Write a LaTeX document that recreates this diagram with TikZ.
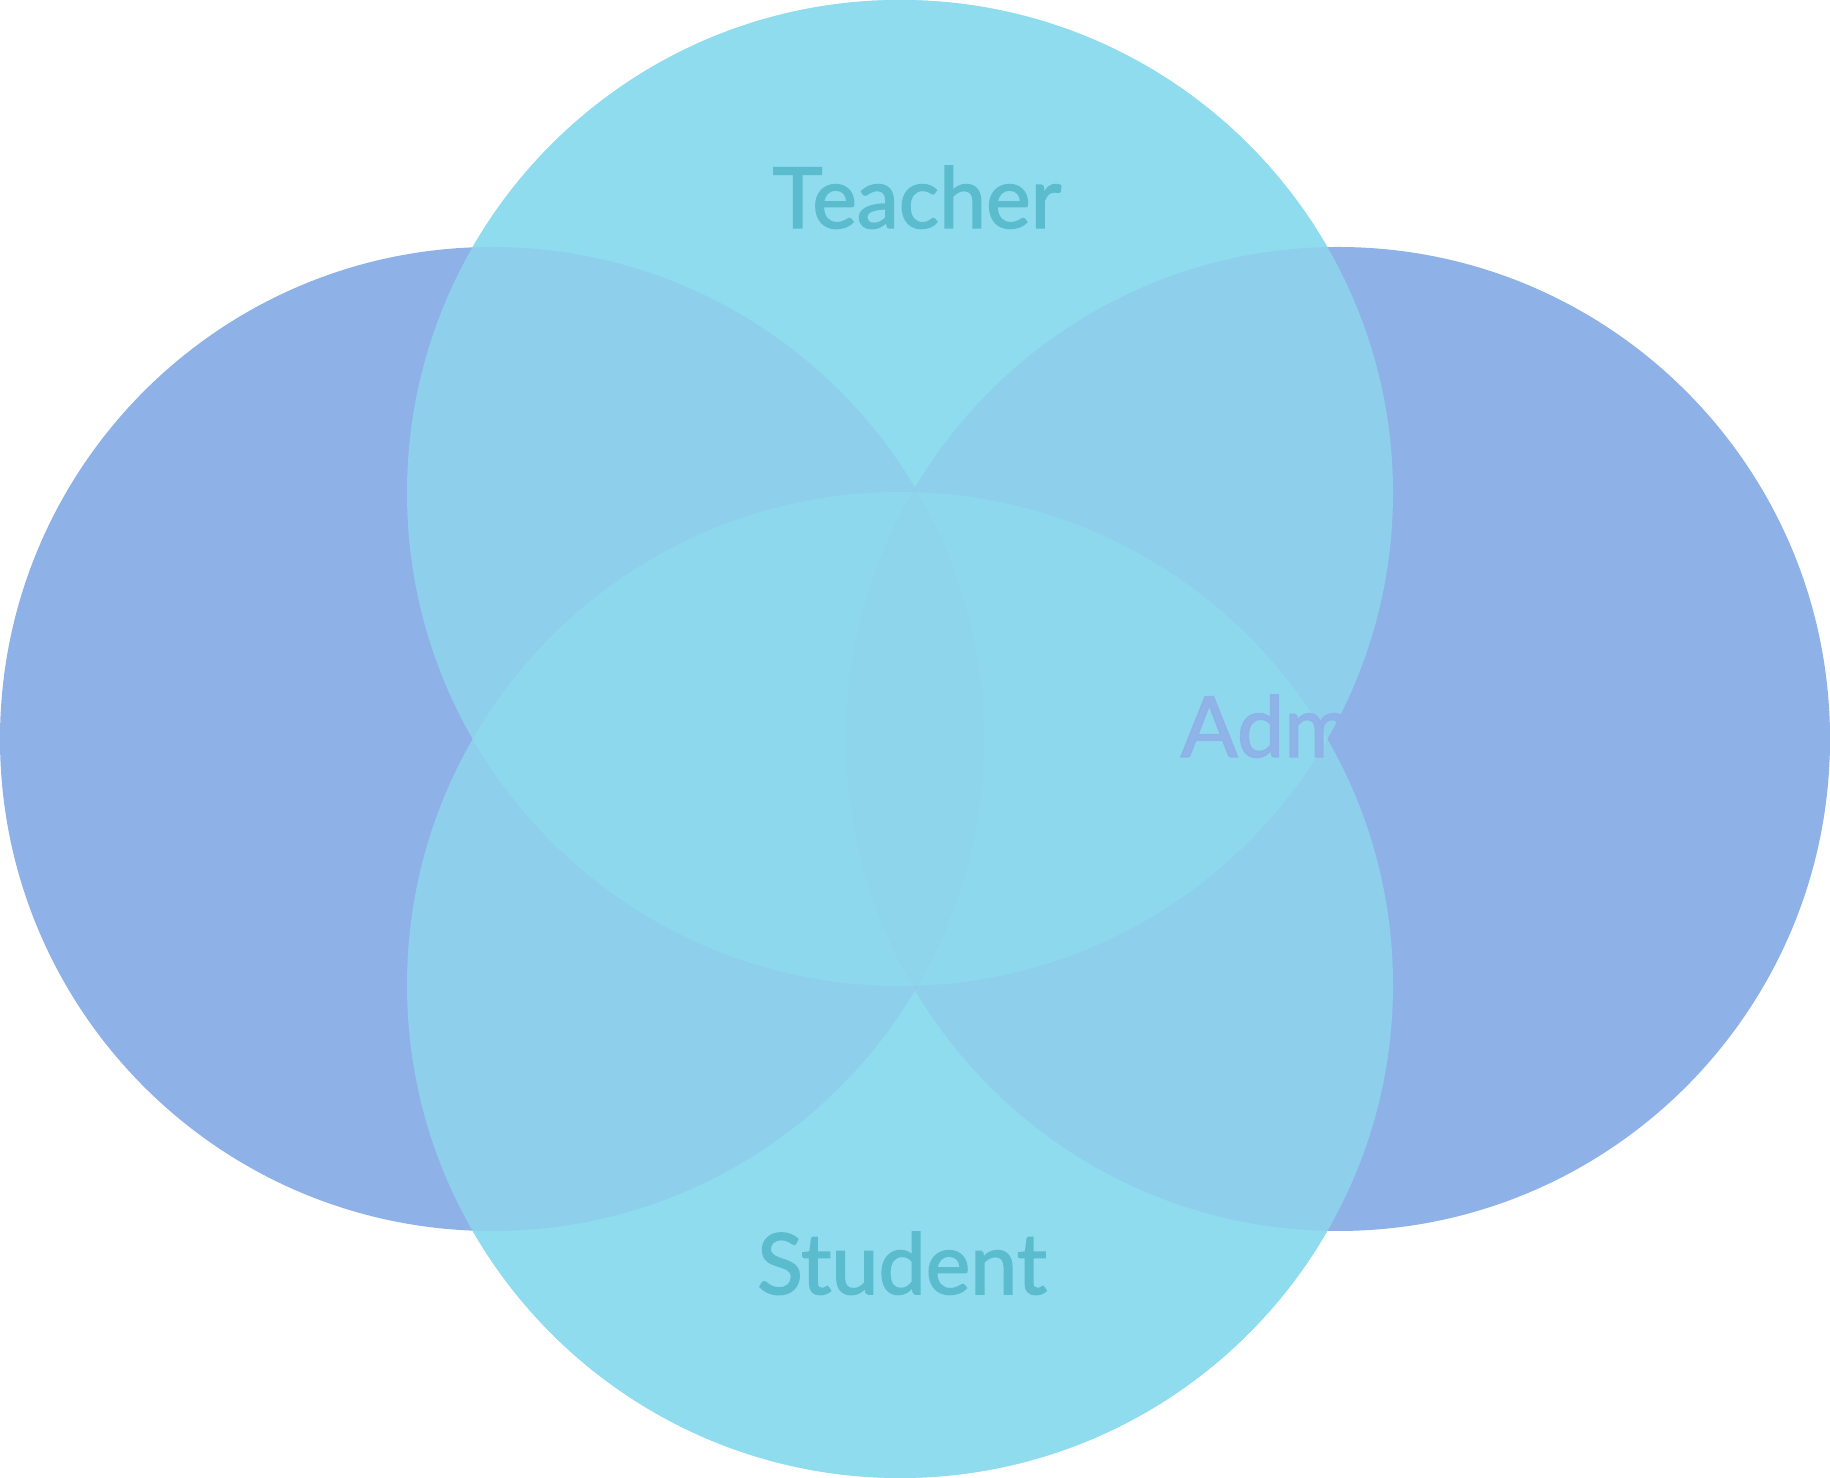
\documentclass[tikz,border=0pt]{standalone}
\usepackage{fontspec}
\setmainfont{Lato}
\newfontfamily\labelfont{Lato}[FakeBold=1.8]
\usepackage{tikz}

\definecolor{setblue}{RGB}{142,177,232}
\definecolor{setteal}{RGB}{142,220,238}
\definecolor{tealtext}{RGB}{91,188,206}

\begin{document}
\begin{tikzpicture}[
  setcircle/.style={circle,inner sep=0pt},
  blueset/.style={setcircle,fill=setblue,minimum size=9.84cm},
  tealset/.style={setcircle,fill=setteal,minimum size=9.86cm},
  tealwash/.style={fill=setteal,fill opacity=0.7},
  setlabel/.style={font=\labelfont\fontsize{24}{28}\selectfont},
]
  \useasboundingbox (0,0) rectangle (18.3,14.78);
  \node[tealset] (teacherset) at (9.00,9.85) {};
  \node[tealset] (studentset) at (9.00,4.93) {};
  \node[blueset] (leftset) at (4.92,7.39) {};
  \node[blueset] (rightset) at (13.38,7.39) {};
  \fill[tealwash] (teacherset.center) circle (4.93);
  \fill[tealwash] (studentset.center) circle (4.93);
  \begin{scope}
    \clip (leftset.center) circle (4.92);
    \fill[setblue,fill opacity=0.07] (rightset.center) circle (4.92);
  \end{scope}
  \node[setlabel,text=tealtext,anchor=base] (teacher) at (9.17,12.50) {Teacher};
  \node[setlabel,text=tealtext,anchor=base] (student) at (9.02,1.84) {Student};
  \node[setlabel,text=setblue,text opacity=0.92,anchor=base west,inner sep=0pt] (admin) at (11.80,7.21) {Admin};
\end{tikzpicture}
\end{document}
